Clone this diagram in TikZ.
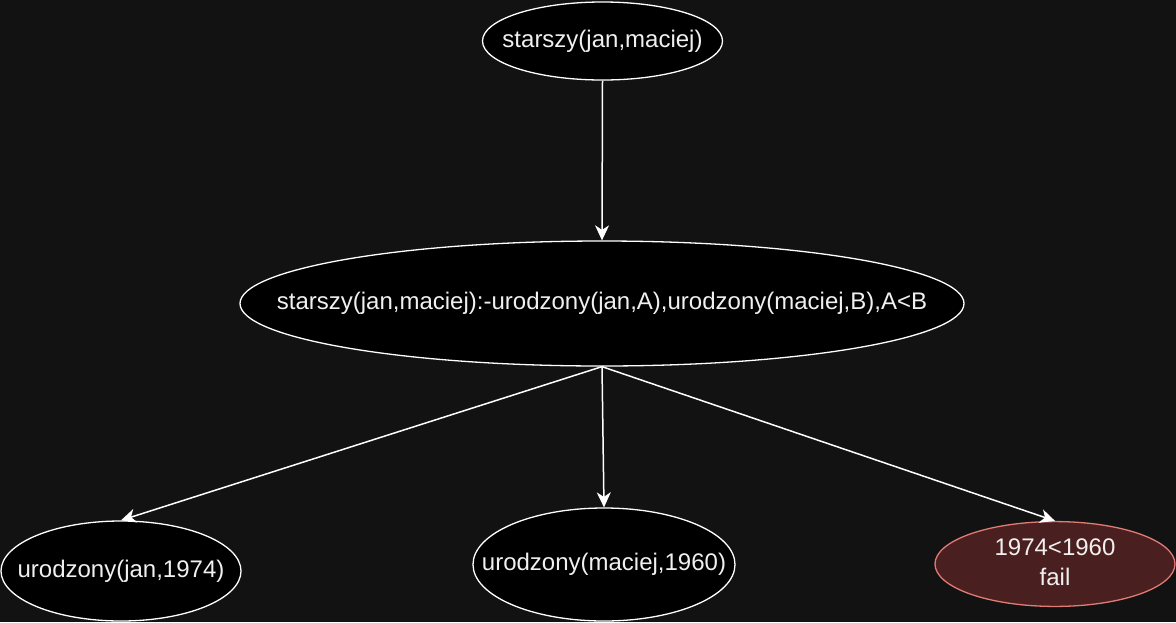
\documentclass[tikz,border=0pt]{standalone}
\usepackage{fontspec}
\setmainfont{Liberation Sans}
\usetikzlibrary{shapes.geometric,arrows.meta}
\definecolor{bg}{HTML}{121212}
\definecolor{txt}{HTML}{F0F0F0}
\definecolor{failfill}{HTML}{4A1F1F}
\definecolor{failline}{HTML}{E07B76}
\newcommand{\ztext}[1]{\makebox[0pt][c]{#1}}
\begin{document}
\begin{tikzpicture}[x=1pt,y=-1pt,
  ell/.style={ellipse,draw=white,fill=black,line width=1.3pt,inner sep=0pt,
    text=txt,font=\fontsize{24}{30}\selectfont},
  failell/.style={ell,draw=failline,fill=failfill},
  arr/.style={draw=white,line width=1.5pt,-{Stealth[length=15pt,width=14pt,inset=4.5pt]}}]
\fill[bg] (0,0) rectangle (1176,622);
\useasboundingbox (0,0) rectangle (1176,622);
\node[ell,minimum width=240pt,minimum height=78pt] (top) at (602.5,41) {\ztext{starszy(jan,maciej)}};
\node[ell,minimum width=724pt,minimum height=125pt] (mid) at (602,303.5) {\ztext{starszy(jan,maciej):-urodzony(jan,A),urodzony(maciej,B),A<B}};
\node[ell,minimum width=240pt,minimum height=100pt] (left) at (121,571) {\ztext{urodzony(jan,1974)}};
\node[ell,minimum width=262pt,minimum height=113pt] (bm) at (604,564.5) {\ztext{urodzony(maciej,1960)}};
\node[failell,minimum width=240pt,minimum height=79pt] (fail) at (1055,564) {\ztext{\begin{tabular}{@{}c@{}}1974<1960\\fail\end{tabular}}};
\draw[arr] (top.south) -- (mid.north);
\draw[arr] (mid.south) -- (left.north);
\draw[arr] (mid.south) -- (bm.north);
\draw[arr] (mid.south) -- (fail.north);
\end{tikzpicture}
\end{document}
